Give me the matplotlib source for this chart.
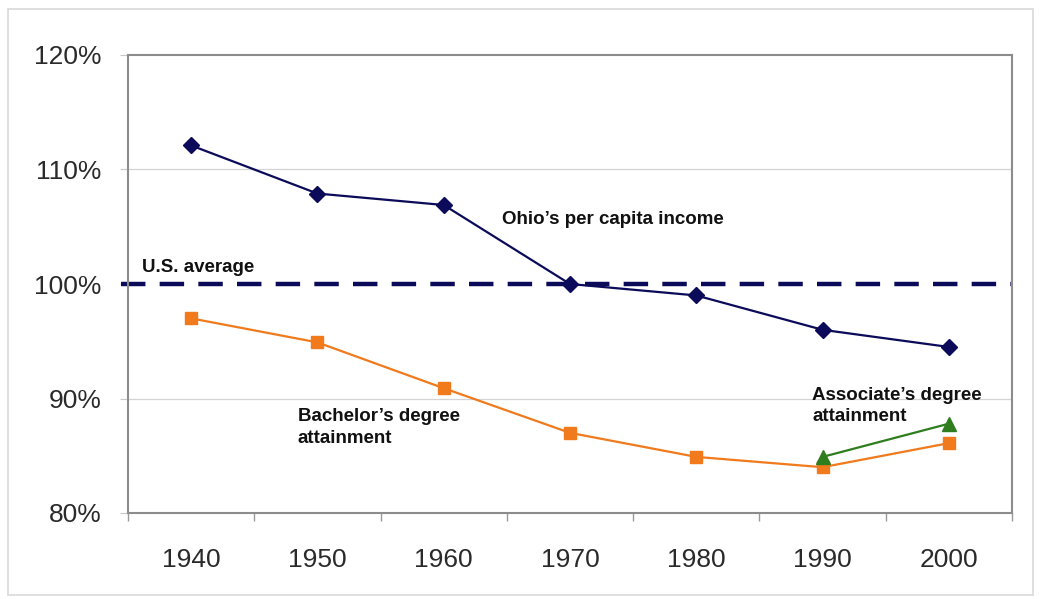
import matplotlib
matplotlib.use("Agg")
import matplotlib.pyplot as plt
from matplotlib.patches import Rectangle
import numpy as np

years = ["1940", "1950", "1960", "1970", "1980", "1990", "2000"]
ohio_income = [112.1, 107.9, 106.9, 100.0, 99.0, 96.0, 94.5]
bachelors = [97.0, 94.9, 90.9, 87.0, 84.9, 84.0, 86.1]
associate_years = ["1990", "2000"]
associates = [84.9, 87.8]
us_average = 100
y_ticks = [80, 90, 100, 110, 120]

plt.rcParams['font.family'] = ['Liberation Sans', 'DejaVu Sans']

fig = plt.figure(figsize=(10.39, 5.99), dpi=100)
fig.patches.append(Rectangle((8/1039, 4/599), 1025/1039, 586/599, transform=fig.transFigure,
                             fill=False, edgecolor='#d9d9d9', linewidth=1.2))
ax = fig.add_axes([128/1039, 86/599, 884/1039, 458/599])

x = np.arange(len(years))
ax_idx = [years.index(y) for y in associate_years]

navy = '#0b0b5a'
orange = '#f07a1c'
green = '#2e7d1f'

for v in [90, 110]:
    ax.axhline(v, color='#d4d4d4', linewidth=0.9, zorder=0)
ax.axhline(us_average, color=navy, linewidth=3.2, dashes=(5.5, 3.2), zorder=2, xmin=-0.008, clip_on=False)

ax.plot(x, ohio_income, color=navy, linewidth=1.6, marker='D', markersize=8, zorder=4)
ax.plot(x, bachelors, color=orange, linewidth=1.6, marker='s', markersize=8.5, zorder=3)
ax.plot(ax_idx, associates, color=green, linewidth=1.6, marker='^', markersize=10, zorder=4)

ax.set_xlim(-0.5, len(years) - 0.5)
ax.set_ylim(80, 120)
ax.set_xticks(x)
ax.set_xticklabels(years)
ax.set_xticks(np.arange(-0.5, len(years)), minor=True)
ax.tick_params(axis='x', which='major', length=0, pad=25, labelsize=19, labelcolor='#2a2a2a')
ax.tick_params(axis='x', which='minor', length=6, color='#9a9a9a', width=1)
ax.set_yticks(y_ticks)
ax.set_yticklabels([f"{v}%" for v in y_ticks])
ax.tick_params(axis='y', length=6, color='#c8c8c8', pad=13, labelsize=19, labelcolor='#2a2a2a')

for s in ax.spines.values():
    s.set_color('#8c8c8c')
    s.set_linewidth(1.5)

fs = 13.5
ax.text(-0.39, 101.4, "U.S. average", fontsize=fs, fontweight='bold', color='#111111',
        ha='left', va='center')
ax.text(2.46, 105.6, "Ohio\u2019s per capita income", fontsize=fs, fontweight='bold', color='#111111',
        ha='left', va='center')
ax.text(0.846, 87.45, "Bachelor\u2019s degree\nattainment", fontsize=fs, fontweight='bold', color='#111111',
        ha='left', va='center', linespacing=1.35)
ax.text(4.92, 89.35, "Associate\u2019s degree\nattainment", fontsize=fs, fontweight='bold', color='#111111',
        ha='left', va='center', linespacing=1.35)

fig.savefig("out.png", dpi=100)
